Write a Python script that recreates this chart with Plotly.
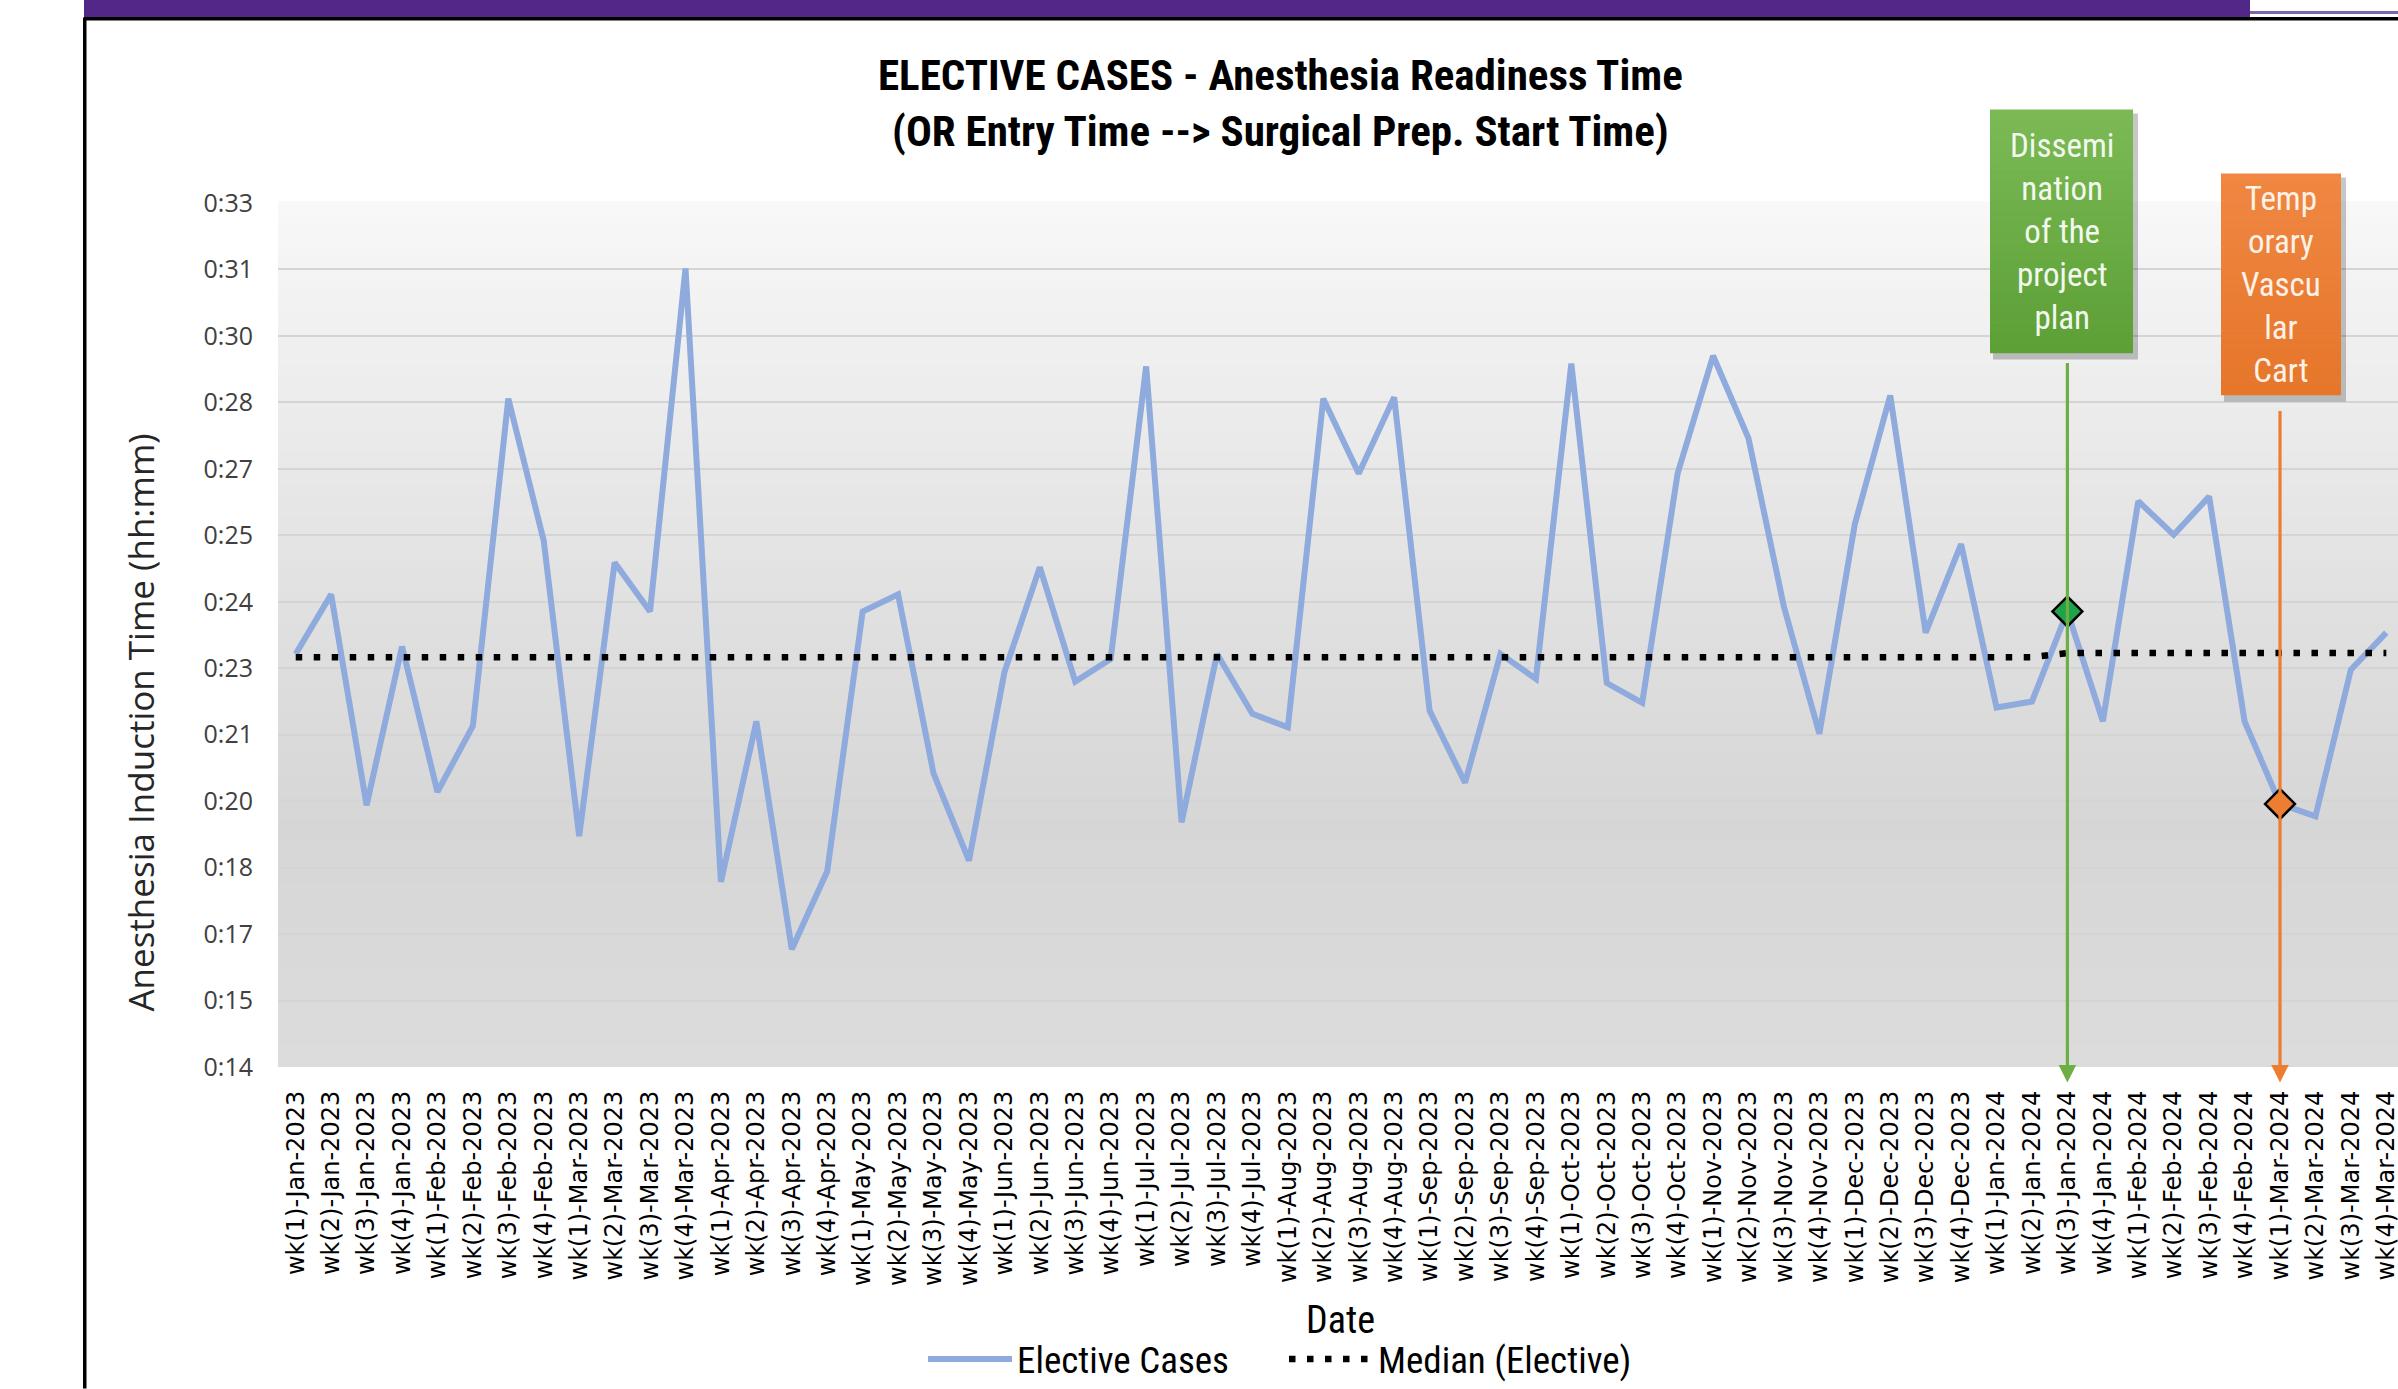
import plotly.graph_objects as go

# ---------------- data ----------------
categories = [
    "wk(1)-Jan-2023", "wk(2)-Jan-2023", "wk(3)-Jan-2023", "wk(4)-Jan-2023",
    "wk(1)-Feb-2023", "wk(2)-Feb-2023", "wk(3)-Feb-2023", "wk(4)-Feb-2023",
    "wk(1)-Mar-2023", "wk(2)-Mar-2023", "wk(3)-Mar-2023", "wk(4)-Mar-2023",
    "wk(1)-Apr-2023", "wk(2)-Apr-2023", "wk(3)-Apr-2023", "wk(4)-Apr-2023",
    "wk(1)-May-2023", "wk(2)-May-2023", "wk(3)-May-2023", "wk(4)-May-2023",
    "wk(1)-Jun-2023", "wk(2)-Jun-2023", "wk(3)-Jun-2023", "wk(4)-Jun-2023",
    "wk(1)-Jul-2023", "wk(2)-Jul-2023", "wk(3)-Jul-2023", "wk(4)-Jul-2023",
    "wk(1)-Aug-2023", "wk(2)-Aug-2023", "wk(3)-Aug-2023", "wk(4)-Aug-2023",
    "wk(1)-Sep-2023", "wk(2)-Sep-2023", "wk(3)-Sep-2023", "wk(4)-Sep-2023",
    "wk(1)-Oct-2023", "wk(2)-Oct-2023", "wk(3)-Oct-2023", "wk(4)-Oct-2023",
    "wk(1)-Nov-2023", "wk(2)-Nov-2023", "wk(3)-Nov-2023", "wk(4)-Nov-2023",
    "wk(1)-Dec-2023", "wk(2)-Dec-2023", "wk(3)-Dec-2023", "wk(4)-Dec-2023",
    "wk(1)-Jan-2024", "wk(2)-Jan-2024", "wk(3)-Jan-2024", "wk(4)-Jan-2024",
    "wk(1)-Feb-2024", "wk(2)-Feb-2024", "wk(3)-Feb-2024", "wk(4)-Feb-2024",
    "wk(1)-Mar-2024", "wk(2)-Mar-2024", "wk(3)-Mar-2024", "wk(4)-Mar-2024",
]

# anesthesia induction time, minutes
elective = [
    23.35, 24.64, 20.07, 23.51, 20.36, 21.79, 28.88, 25.80, 19.40, 25.33,
    24.27, 31.70, 18.41, 21.89, 16.95, 18.64, 24.27, 24.64, 20.76, 18.87,
    22.95, 25.23, 22.75, 23.24, 29.58, 19.70, 23.35, 22.05, 21.76, 28.88,
    27.26, 28.91, 22.12, 20.56, 23.35, 22.81, 29.64, 22.72, 22.29, 27.26,
    29.81, 28.02, 24.37, 21.62, 26.16, 28.95, 23.81, 25.73, 22.19, 22.32,
    24.27, 21.89, 26.66, 25.93, 26.76, 21.89, 20.10, 19.83, 23.01, 23.81,
]

median = [
    23.28, 23.28, 23.28, 23.28, 23.28, 23.28, 23.28, 23.28, 23.28, 23.28,
    23.28, 23.28, 23.28, 23.28, 23.28, 23.28, 23.28, 23.28, 23.28, 23.28,
    23.28, 23.28, 23.28, 23.28, 23.28, 23.28, 23.28, 23.28, 23.28, 23.28,
    23.28, 23.28, 23.28, 23.28, 23.28, 23.28, 23.28, 23.28, 23.28, 23.28,
    23.28, 23.28, 23.28, 23.28, 23.28, 23.28, 23.28, 23.28, 23.28, 23.28,
    23.37, 23.37, 23.37, 23.37, 23.37, 23.37, 23.37, 23.37, 23.37, 23.37,
]

# y ticks: 0.010 .. 0.023 day in minutes
y_tick_vals = [14.40, 15.84, 17.28, 18.72, 20.16, 21.60, 23.04, 24.48,
               25.92, 27.36, 28.80, 30.24, 31.68, 33.12]
y_tick_text = ["0:14", "0:15", "0:17", "0:18", "0:20", "0:21", "0:23", "0:24",
               "0:25", "0:27", "0:28", "0:30", "0:31", "0:33"]

events = ["Dissemi<br>nation<br>of the<br>project<br>plan",
          "Temp<br>orary<br>Vascu<br>lar<br>Cart"]
event_idx = [50, 56]

# ---------------- layout geometry ----------------
FW, FH = 2398, 1389
L, R, T, B = 278, 2398, 203.4, 1067.5
W, H = R - L, B - T


def px(x):
    return (x - L) / W


def py(y):
    return (B - y) / H


NARROW = "Liberation Sans Narrow, Arial Narrow, Roboto Condensed, sans-serif"
GREEN = "#6DAE45"
ORANGE = "#ED7D31"

fig = go.Figure()

fig.add_trace(go.Scatter(
    x=categories, y=elective, mode="lines", name="Elective Cases",
    line=dict(color="#8FAADC", width=6),
))
fig.add_trace(go.Scatter(
    x=categories, y=median, mode="lines", name="Median (Elective)",
    line=dict(color="#000000", width=6.5, dash="6.5px,11.5px"),
))
fig.add_trace(go.Scatter(
    x=[categories[event_idx[0]]], y=[elective[event_idx[0]]], mode="markers",
    showlegend=False,
    marker=dict(symbol="diamond", size=23, color="#1FA34A",
                line=dict(color="#000000", width=2.5)),
))
fig.add_trace(go.Scatter(
    x=[categories[event_idx[1]]], y=[elective[event_idx[1]]], mode="markers",
    showlegend=False,
    marker=dict(symbol="diamond", size=23, color=ORANGE,
                line=dict(color="#000000", width=2.5)),
))

shapes = []

# plot-area vertical gradient
stops = [(0.0, (220, 220, 220)), (0.28, (214, 214, 214)), (0.5, (223, 223, 223)),
         (0.75, (235, 235, 235)), (1.0, (248, 248, 248))]


def interp(t):
    for (t0, c0), (t1, c1) in zip(stops[:-1], stops[1:]):
        if t0 <= t <= t1:
            f = (t - t0) / (t1 - t0)
            return tuple(round(a + (b - a) * f) for a, b in zip(c0, c1))
    return stops[-1][1]


N = 80
for k in range(N):
    y0, y1 = k / N, (k + 1) / N
    c = interp((y0 + y1) / 2)
    shapes.append(dict(type="rect", xref="x domain", yref="y domain",
                       x0=0, x1=1, y0=y0, y1=y1 + 0.002, layer="below",
                       line=dict(width=0), fillcolor="rgb(%d,%d,%d)" % c))

# header decoration
shapes.append(dict(type="rect", xref="paper", yref="paper", x0=px(84), x1=px(2250),
                   y0=py(18), y1=py(0), line=dict(width=0), fillcolor="#512888",
                   layer="above"))
shapes.append(dict(type="rect", xref="paper", yref="paper", x0=px(2250), x1=px(2398),
                   y0=py(14.5), y1=py(11.5), line=dict(width=0), fillcolor="#8064B0",
                   layer="above"))
shapes.append(dict(type="rect", xref="paper", yref="paper", x0=px(84), x1=px(2398),
                   y0=py(21), y1=py(17.5), line=dict(width=0), fillcolor="#000000",
                   layer="above"))
shapes.append(dict(type="rect", xref="paper", yref="paper", x0=px(83), x1=px(86.5),
                   y0=py(1389), y1=py(18), line=dict(width=0), fillcolor="#000000",
                   layer="above"))


def box(x0, x1, y0, y1, top, bot):
    # shadow
    shapes.append(dict(type="rect", xref="paper", yref="paper",
                       x0=px(x0 + 3), x1=px(x1 + 5), y0=py(y1 + 7), y1=py(y0 + 4),
                       line=dict(width=0), fillcolor="rgba(0,0,0,0.22)", layer="above"))
    n = 24
    for k in range(n):
        f = (k + 0.5) / n
        c = tuple(round(a + (b - a) * f) for a, b in zip(top, bot))
        ya = y0 + (y1 - y0) * k / n
        yb = y0 + (y1 - y0) * (k + 1) / n + 0.6
        shapes.append(dict(type="rect", xref="paper", yref="paper",
                           x0=px(x0), x1=px(x1), y0=py(yb), y1=py(ya),
                           line=dict(width=0), fillcolor="rgb(%d,%d,%d)" % c,
                           layer="above"))


box(1990, 2133, 110, 353, (124, 186, 86), (92, 159, 53))
box(2221, 2341, 174, 395, (240, 135, 66), (229, 118, 42))

annotations = []
# titles
annotations.append(dict(text="<b>ELECTIVE CASES - Anesthesia Readiness Time</b>",
                        xref="paper", yref="paper", x=px(1280), y=py(75),
                        showarrow=False, xanchor="center", yanchor="middle",
                        font=dict(family=NARROW, size=43, color="#000000"),
                        ))
annotations.append(dict(text="<b>(OR Entry Time --> Surgical Prep. Start Time)</b>",
                        xref="paper", yref="paper", x=px(1280), y=py(131.5),
                        showarrow=False, xanchor="center", yanchor="middle",
                        font=dict(family=NARROW, size=43, color="#000000"),
                        ))
annotations.append(dict(text="Anesthesia Induction Time (hh:mm)", textangle=-90,
                        xref="paper", yref="paper", x=px(141), y=py(723),
                        showarrow=False, xanchor="center", yanchor="middle",
                        font=dict(family="Open Sans, sans-serif", size=35, color="#262626")))
annotations.append(dict(text="Date", xref="paper", yref="paper", x=px(1340), y=py(1321),
                        showarrow=False, xanchor="center", yanchor="middle",
                        font=dict(family=NARROW, size=38, color="#000000")))

# event boxes text
annotations.append(dict(text=events[0], xref="paper", yref="paper",
                        x=px(2061.5), y=py(231.5), showarrow=False,
                        xanchor="center", yanchor="middle", align="center",
                        font=dict(family=NARROW, size=33, color="#F2F8EE")))
annotations.append(dict(text=events[1], xref="paper", yref="paper",
                        x=px(2281), y=py(284.5), showarrow=False,
                        xanchor="center", yanchor="middle", align="center",
                        font=dict(family=NARROW, size=33, color="#FDF1E8")))

# event arrows
annotations.append(dict(text="", x=categories[event_idx[0]], xref="x", yref="paper",
                        y=py(1083), showarrow=True, ax=0, ay=-(1083 - 362),
                        arrowhead=2, arrowsize=1.1, arrowwidth=3.2, arrowcolor=GREEN,
                        standoff=0))
annotations.append(dict(text="", x=categories[event_idx[1]], xref="x", yref="paper",
                        y=py(1083), showarrow=True, ax=0, ay=-(1083 - 410),
                        arrowhead=2, arrowsize=1.1, arrowwidth=3.2, arrowcolor=ORANGE,
                        standoff=0))

fig.update_layout(
    width=FW, height=FH,
    margin=dict(l=L, r=FW - R, t=T, b=FH - B, autoexpand=False),
    paper_bgcolor="#FFFFFF", plot_bgcolor="rgba(0,0,0,0)",
    shapes=shapes, annotations=annotations,
    showlegend=True,
    legend=dict(orientation="h", x=px(1284), y=py(1360), xanchor="center",
                yanchor="middle", bgcolor="rgba(0,0,0,0)",
                font=dict(family=NARROW, size=37, color="#000000"),
                itemwidth=84, entrywidth=262, entrywidthmode="pixels",
                tracegroupgap=0),
    xaxis=dict(type="category", range=[-0.5, 59.33], showgrid=False, zeroline=False,
               showline=False, ticks="", tickangle=-90, ticklabelstandoff=18,
               tickfont=dict(family="DejaVu Sans, Verdana, sans-serif", size=24,
                             color="#000000")),
    yaxis=dict(range=[14.4, 33.12], tickmode="array", tickvals=y_tick_vals,
               ticktext=y_tick_text, showgrid=True, gridcolor="#D4D4D4", gridwidth=2,
               zeroline=False, showline=False, ticks="", ticklabelstandoff=24,
               tickfont=dict(family="Open Sans, sans-serif", size=25, color="#404040")),
)

fig.write_html("out.html")
